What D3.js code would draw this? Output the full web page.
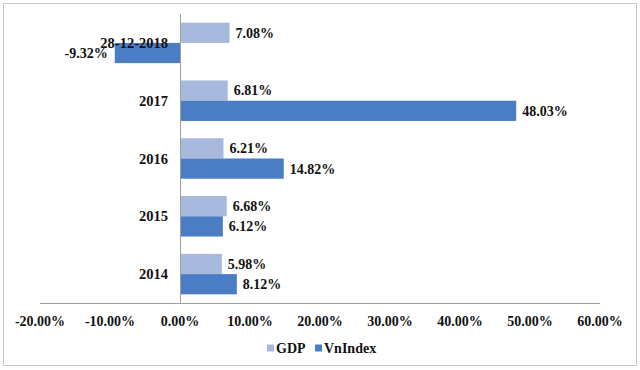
<!DOCTYPE html>
<html>
<head>
<meta charset="utf-8">
<script src="https://cdn.jsdelivr.net/npm/d3@7"></script>
<style>
  body { margin: 0; background: #fff; }
  text { font-family: "Liberation Serif", "Times New Roman", serif; font-weight: bold; fill: #111; }
</style>
</head>
<body>
<div id="chart"></div>
<script>
// categories, top to bottom
var categories = ['28-12-2018', '2017', '2016', '2015', '2014'];
var gdp = [7.08, 6.81, 6.21, 6.68, 5.98];
var vnindex = [-9.32, 48.03, 14.82, 6.12, 8.12];
var ticks = [-20, -10, 0, 10, 20, 30, 40, 50, 60];
var seriesNames = ['GDP', 'VnIndex'];
var colors = ['#a9b9dd', '#4a7dc4'];

var width = 640, height = 370;
var svg = d3.select('#chart').append('svg')
  .attr('width', width)
  .attr('height', height);

// outer frame
svg.append('rect')
  .attr('x', 3.5).attr('y', 3.5)
  .attr('width', 633).attr('height', 362)
  .attr('fill', 'none')
  .attr('stroke', '#c8c8c8');

var x = d3.scaleLinear().domain([-20, 60]).range([40, 600]);
var y = d3.scaleBand().domain(categories).range([14, 303]).paddingInner(0.3).paddingOuter(0.15);
var sub = d3.scaleBand().domain(seriesNames).range([0, y.bandwidth()]);

var rows = categories.map(function (c, i) {
  return { cat: c, values: [gdp[i], vnindex[i]] };
});

// bars
var groups = svg.selectAll('g.row')
  .data(rows)
  .enter().append('g')
  .attr('class', 'row')
  .attr('transform', function (d) { return 'translate(0,' + y(d.cat) + ')'; });

groups.selectAll('rect')
  .data(function (d) { return d.values.map(function (v, j) { return { s: seriesNames[j], v: v, j: j }; }); })
  .enter().append('rect')
  .attr('x', function (d) { return x(Math.min(0, d.v)); })
  .attr('y', function (d) { return sub(d.s); })
  .attr('width', function (d) { return Math.abs(x(d.v) - x(0)); })
  .attr('height', sub.bandwidth())
  .attr('fill', function (d) { return colors[d.j]; });

// value labels
groups.selectAll('text.val')
  .data(function (d) { return d.values.map(function (v, j) { return { s: seriesNames[j], v: v }; }); })
  .enter().append('text')
  .attr('class', 'val')
  .attr('x', function (d) { return d.v < 0 ? x(d.v) - 7 : x(d.v) + 6; })
  .attr('y', function (d) { return sub(d.s) + sub.bandwidth() / 2; })
  .attr('dy', '0.35em')
  .attr('text-anchor', function (d) { return d.v < 0 ? 'end' : 'start'; })
  .attr('font-size', '14px')
  .text(function (d) { return d.v.toFixed(2) + '%'; });

// category labels
groups.append('text')
  .attr('x', 168)
  .attr('y', y.bandwidth() / 2)
  .attr('dy', '0.35em')
  .attr('text-anchor', 'end')
  .attr('font-size', '14.5px')
  .text(function (d) { return d.cat; });

// axes lines
svg.append('line')
  .attr('x1', x(-20)).attr('x2', x(60))
  .attr('y1', 303.5).attr('y2', 303.5)
  .attr('stroke', '#a0a0a0');
svg.append('line')
  .attr('x1', Math.round(x(0)) + 0.5).attr('x2', Math.round(x(0)) + 0.5)
  .attr('y1', 14).attr('y2', 303)
  .attr('stroke', '#a0a0a0');

// tick labels
svg.selectAll('text.tick')
  .data(ticks)
  .enter().append('text')
  .attr('class', 'tick')
  .attr('x', function (d) { return x(d); })
  .attr('y', 321)
  .attr('dy', '0.35em')
  .attr('text-anchor', 'middle')
  .attr('font-size', '14px')
  .text(function (d) { return d.toFixed(2) + '%'; });

// legend
var legendX = [267, 315];
var legend = svg.selectAll('g.legend')
  .data(seriesNames)
  .enter().append('g')
  .attr('class', 'legend')
  .attr('transform', function (d, i) { return 'translate(' + legendX[i] + ',348)'; });
legend.append('rect')
  .attr('x', 0).attr('y', -3.5)
  .attr('width', 7).attr('height', 7)
  .attr('fill', function (d, i) { return colors[i]; });
legend.append('text')
  .attr('x', 9)
  .attr('dy', '0.35em')
  .attr('font-size', '14px')
  .text(function (d) { return d; });
</script>
</body>
</html>
